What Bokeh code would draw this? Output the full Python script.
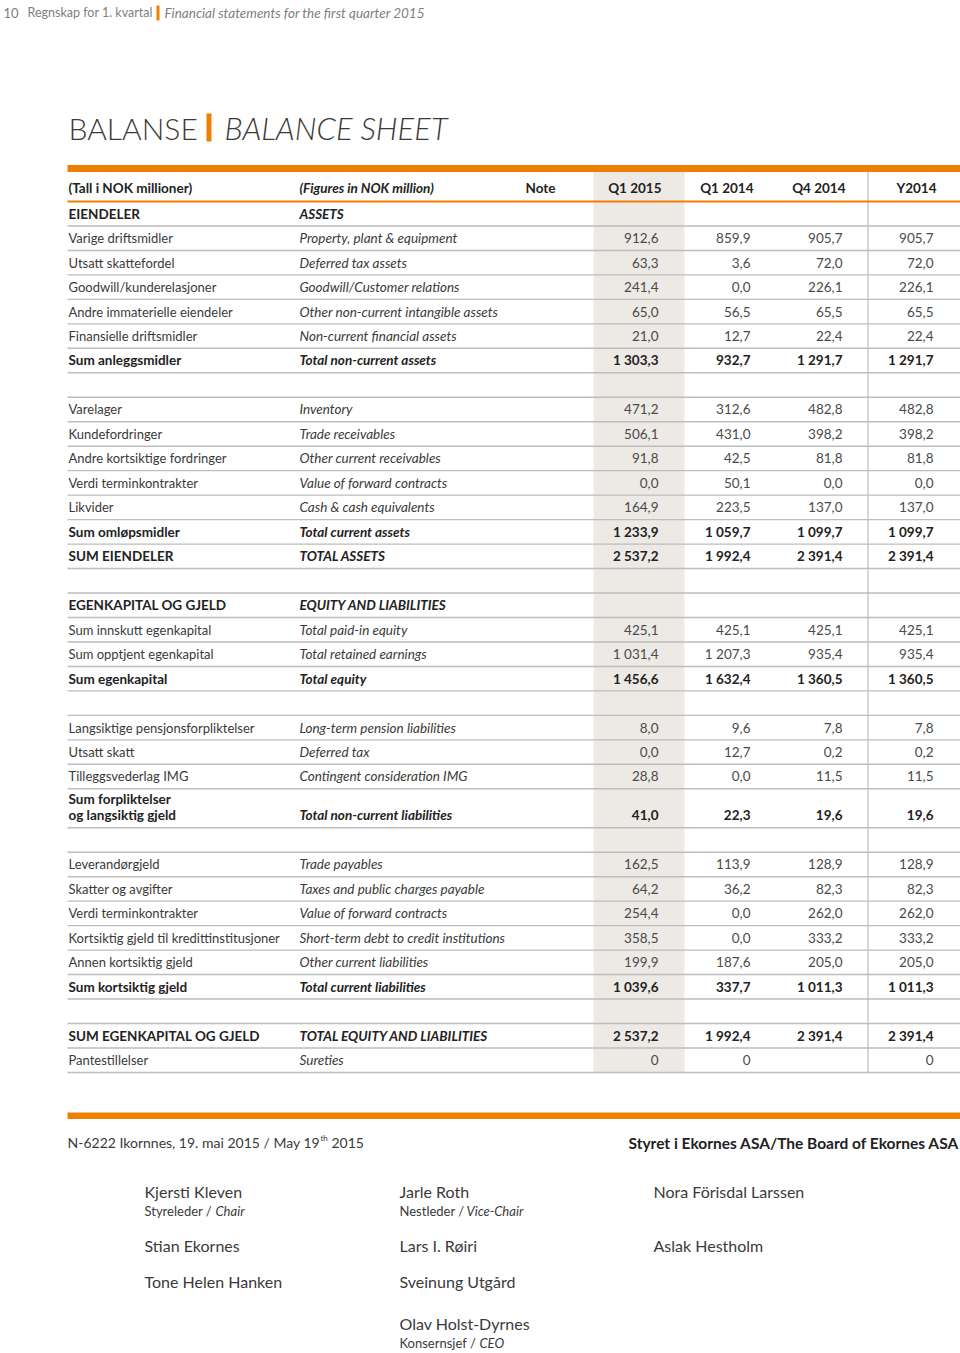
import numpy as np
from bokeh.plotting import figure
from bokeh.models import ColumnDataSource, Range1d
from bokeh.embed import file_html
from bokeh.resources import INLINE
from bokeh.core.properties import value

# ---------------- data ----------------
col_headers = ["Q1 2015", "Q1 2014", "Q4 2014", "Y2014"]

labels_no = [
    "EIENDELER", "Varige driftsmidler", "Utsatt skattefordel", "Goodwill/kunderelasjoner",
    "Andre immaterielle eiendeler", "Finansielle driftsmidler", "Sum anleggsmidler", "",
    "Varelager", "Kundefordringer", "Andre kortsiktige fordringer", "Verdi terminkontrakter",
    "Likvider", "Sum omløpsmidler", "SUM EIENDELER", "",
    "EGENKAPITAL OG GJELD", "Sum innskutt egenkapital", "Sum opptjent egenkapital", "Sum egenkapital", "",
    "Langsiktige pensjonsforpliktelser", "Utsatt skatt", "Tilleggsvederlag IMG",
    "Sum forpliktelser\nog langsiktig gjeld", "",
    "Leverandørgjeld", "Skatter og avgifter", "Verdi terminkontrakter",
    "Kortsiktig gjeld til kredittinstitusjoner", "Annen kortsiktig gjeld", "Sum kortsiktig gjeld", "",
    "SUM EGENKAPITAL OG GJELD", "Pantestillelser",
]
labels_en = [
    "ASSETS", "Property, plant & equipment", "Deferred tax assets", "Goodwill/Customer relations",
    "Other non-current intangible assets", "Non-current financial assets", "Total non-current assets", "",
    "Inventory", "Trade receivables", "Other current receivables", "Value of forward contracts",
    "Cash & cash equivalents", "Total current assets", "TOTAL ASSETS", "",
    "EQUITY AND LIABILITIES", "Total paid-in equity", "Total retained earnings", "Total equity", "",
    "Long-term pension liabilities", "Deferred tax", "Contingent consideration IMG",
    "Total non-current liabilities", "",
    "Trade payables", "Taxes and public charges payable", "Value of forward contracts",
    "Short-term debt to credit institutions", "Other current liabilities", "Total current liabilities", "",
    "TOTAL EQUITY AND LIABILITIES", "Sureties",
]
q1_2015 = [None, 912.6, 63.3, 241.4, 65.0, 21.0, 1303.3, None,
           471.2, 506.1, 91.8, 0.0, 164.9, 1233.9, 2537.2, None,
           None, 425.1, 1031.4, 1456.6, None,
           8.0, 0.0, 28.8, 41.0, None,
           162.5, 64.2, 254.4, 358.5, 199.9, 1039.6, None,
           2537.2, 0]
q1_2014 = [None, 859.9, 3.6, 0.0, 56.5, 12.7, 932.7, None,
           312.6, 431.0, 42.5, 50.1, 223.5, 1059.7, 1992.4, None,
           None, 425.1, 1207.3, 1632.4, None,
           9.6, 12.7, 0.0, 22.3, None,
           113.9, 36.2, 0.0, 0.0, 187.6, 337.7, None,
           1992.4, 0]
q4_2014 = [None, 905.7, 72.0, 226.1, 65.5, 22.4, 1291.7, None,
           482.8, 398.2, 81.8, 0.0, 137.0, 1099.7, 2391.4, None,
           None, 425.1, 935.4, 1360.5, None,
           7.8, 0.2, 11.5, 19.6, None,
           128.9, 82.3, 262.0, 333.2, 205.0, 1011.3, None,
           2391.4, None]
y2014 = [None, 905.7, 72.0, 226.1, 65.5, 22.4, 1291.7, None,
         482.8, 398.2, 81.8, 0.0, 137.0, 1099.7, 2391.4, None,
         None, 425.1, 935.4, 1360.5, None,
         7.8, 0.2, 11.5, 19.6, None,
         128.9, 82.3, 262.0, 333.2, 205.0, 1011.3, None,
         2391.4, 0]
total_rows = ["EIENDELER", "Sum anleggsmidler", "Sum omløpsmidler", "SUM EIENDELER",
              "EGENKAPITAL OG GJELD", "Sum egenkapital", "Sum forpliktelser\nog langsiktig gjeld",
              "Sum kortsiktig gjeld", "SUM EGENKAPITAL OG GJELD"]

board_names = ["Kjersti Kleven", "Jarle Roth", "Nora Förisdal Larssen",
               "Stian Ekornes", "Lars I. Røiri", "Aslak Hestholm",
               "Tone Helen Hanken", "Sveinung Utgård", "Olav Holst-Dyrnes"]
board_roles_no = ["Styreleder /", "Nestleder /", "", "", "", "", "", "", "Konsernsjef /"]
board_roles_en = ["Chair", "Vice-Chair", "", "", "", "", "", "", "CEO"]

# ---------------- style / layout ----------------
ORANGE = "#EE7F00"
SHADE = "#EDE9E5"
RULE = "#BDBDBD"
TXT = "#3A3A3A"
FONT = "Lato"
LIGHT = "Lato Light"

W, H = 960, 1353
p = figure(width=W, height=H, x_range=Range1d(0, W), y_range=Range1d(H, 0),
           output_backend="svg", toolbar_location=None, min_border=0,
           x_axis_type=None, y_axis_type=None)
p.grid.visible = False
p.outline_line_color = None
p.background_fill_color = "white"
p.border_fill_color = "white"


def add_text(xs, ys, texts, align="left", size="13.5px", style="normal", color=TXT, font=FONT):
    if len(texts) == 0:
        return
    src = ColumnDataSource(dict(x=list(xs), y=list(ys), text=list(texts)))
    p.text(x="x", y="y", text="text", source=src, text_align=align, text_baseline="middle",
           text_font=value(font), text_font_size=size, text_font_style=style, text_color=color)


def fmt(v):
    if v is None:
        return ""
    if isinstance(v, int):
        return str(v)
    return f"{v:,.1f}".replace(",", " ").replace(".", ",")


# row geometry
TABLE_L, TABLE_R = 67, W
TOP_BAR = (164.5, 171.5)
HEAD_LINE = 201.0
ROW_H, EXTRA = 24.47, 14.5
n_lines = np.array([lbl.count("\n") + 1 for lbl in labels_no])
heights = ROW_H + EXTRA * (n_lines - 1)
bottoms = HEAD_LINE + np.cumsum(heights)
text_y = bottoms - 12.3

X_NO, X_EN, X_NOTE = 68, 299, 540
X_COLS = [658, 750, 842, 933]
SHADE_X = (593, 684)
VLINE_X = 867.5

# shaded Q1 2015 column
p.quad(left=[SHADE_X[0]], right=[SHADE_X[1]], top=[TOP_BAR[1]], bottom=[bottoms[-1]],
       fill_color=SHADE, line_color=None)
# row rules
p.segment(x0=[TABLE_L] * len(bottoms), x1=[TABLE_R] * len(bottoms), y0=list(bottoms), y1=list(bottoms),
          line_color=RULE, line_width=1.4)
# vertical rule before Y2014
p.segment(x0=[VLINE_X], x1=[VLINE_X], y0=[TOP_BAR[1]], y1=[bottoms[-1]], line_color=RULE, line_width=1.2)
# orange bars
p.quad(left=[TABLE_L], right=[TABLE_R], top=[TOP_BAR[0]], bottom=[TOP_BAR[1]], fill_color=ORANGE, line_color=None)
p.segment(x0=[TABLE_L], x1=[TABLE_R], y0=[HEAD_LINE], y1=[HEAD_LINE], line_color=ORANGE, line_width=2)

# header row
HEAD_Y = 187
add_text([X_NO], [HEAD_Y], ["(Tall i NOK millioner)"], style="bold", color="#222222")
add_text([X_EN], [HEAD_Y], ["(Figures in NOK million)"], style="bold italic", color="#222222")
add_text([X_NOTE], [HEAD_Y], ["Note"], align="center", style="bold", color="#222222")
add_text([x + 3 for x in X_COLS], [HEAD_Y] * 4, col_headers, align="right", style="bold", color="#222222")

# table body
groups = {k: ([], [], []) for k in ["no", "no_b", "en", "en_b", "num", "num_b"]}
series = [q1_2015, q1_2014, q4_2014, y2014]
for i, (lno, len_) in enumerate(zip(labels_no, labels_en)):
    bold = lno in total_rows
    yy = text_y[i]
    lines = lno.split("\n") if lno else []
    for k, ln in enumerate(lines):
        g = groups["no_b" if bold else "no"]
        g[0].append(X_NO); g[1].append(yy - 16 * (len(lines) - 1 - k)); g[2].append(ln)
    if len_:
        g = groups["en_b" if bold else "en"]
        g[0].append(X_EN); g[1].append(yy); g[2].append(len_)
    for cx, s in zip(X_COLS, series):
        t = fmt(s[i])
        if t:
            g = groups["num_b" if bold else "num"]
            g[0].append(cx); g[1].append(yy); g[2].append(t)

add_text(*groups["no"], size="13px")
add_text(*groups["no_b"], size="13.5px", style="bold", color="#222222")
add_text(*groups["en"], size="13.5px", style="italic")
add_text(*groups["en_b"], size="13.5px", style="bold italic", color="#222222")
add_text(*groups["num"], align="right", color="#4A4A4A")
add_text(*groups["num_b"], align="right", style="bold", color="#222222")

# page header
add_text([3], [12], ["10"], size="13px", color="#808080")
add_text([27], [12], ["Regnskap for 1. kvartal"], size="12.5px", color="#808080")
p.quad(left=[156], right=[159], top=[5], bottom=[20], fill_color=ORANGE, line_color=None)
add_text([164], [12], ["Financial statements for the first quarter 2015"], size="13.5px",
         style="italic", color="#808080")

# title
add_text([68], [127], ["BALANSE"], size="30px", color="#3A3A3A", font=LIGHT)
p.quad(left=[206], right=[211], top=[113], bottom=[141], fill_color=ORANGE, line_color=None)
add_text([224], [127], ["BALANCE SHEET"], size="31px", style="italic", color="#3A3A3A", font=LIGHT)

# footer
p.quad(left=[TABLE_L], right=[TABLE_R], top=[1112], bottom=[1118.5], fill_color=ORANGE, line_color=None)
add_text([67], [1142], ["N-6222 Ikornnes, 19. mai 2015 / May 19"], size="14px", color="#3A3A3A")
add_text([320], [1137], ["th"], size="8px", color="#3A3A3A")
add_text([331], [1142], ["2015"], size="14px", color="#3A3A3A")
add_text([TABLE_R - 1], [1142], ["Styret i Ekornes ASA/The Board of Ekornes ASA"], align="right",
         size="15.5px", style="bold", color="#222222")

col_x = [144, 399, 653]
row_y = [1191, 1245, 1281, 1323]
grid_col = [0, 1, 2, 0, 1, 2, 0, 1, 1]
grid_row = [0, 0, 0, 1, 1, 1, 2, 2, 3]
add_text([col_x[c] for c in grid_col], [row_y[r] for r in grid_row], board_names, size="16px", color="#3A3A3A")
role_idx = [i for i, r in enumerate(board_roles_no) if r]
role_off = {0: 71, 1: 67, 8: 80}
add_text([col_x[grid_col[i]] for i in role_idx], [row_y[grid_row[i]] + 19 for i in role_idx],
         [board_roles_no[i] for i in role_idx], size="13px", color="#3A3A3A")
add_text([col_x[grid_col[i]] + role_off[i] for i in role_idx], [row_y[grid_row[i]] + 19 for i in role_idx],
         [board_roles_en[i] for i in role_idx], size="13px", style="italic", color="#3A3A3A")

open("out.html", "w").write(file_html(p, INLINE))
